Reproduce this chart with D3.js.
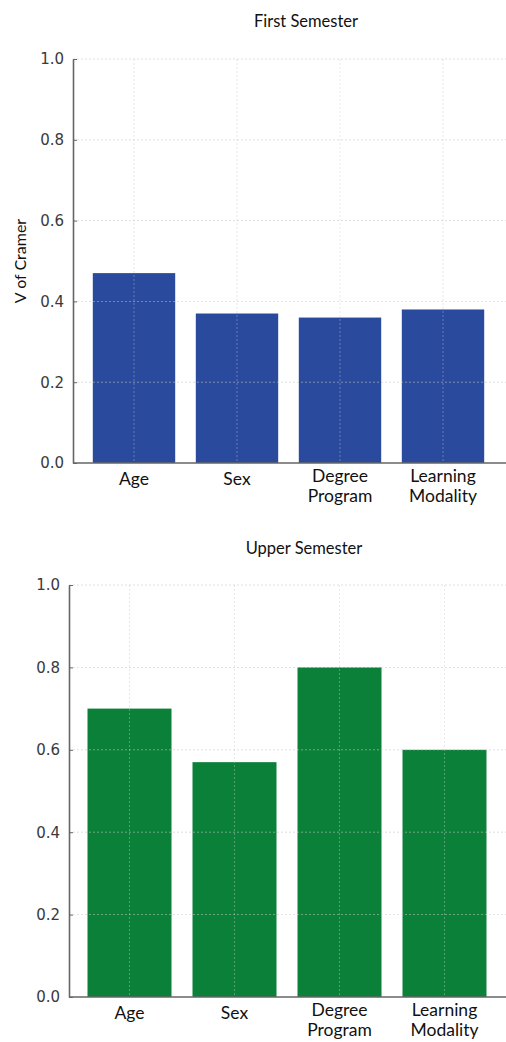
<!DOCTYPE html>
<html>
<head>
<meta charset="utf-8">
<script src="https://cdn.jsdelivr.net/npm/d3@7"></script>
<style>
html,body{margin:0;padding:0;background:#fff;}
svg{display:block;}
</style>
</head>
<body>
<svg id="chart" width="506" height="1042"></svg>
<script>
const categories = ["Age", "Sex", "Degree Program", "Learning Modality"];
const categoryLines = [["Age"], ["Sex"], ["Degree", "Program"], ["Learning", "Modality"]];
const firstSemester = [0.47, 0.37, 0.36, 0.38];
const upperSemester = [0.70, 0.57, 0.80, 0.60];
const yTicks = [0.0, 0.2, 0.4, 0.6, 0.8, 1.0];
const titles = ["First Semester", "Upper Semester"];
const yLabel = "V of Cramer";

const svg = d3.select("#chart");
const font = "Lato, 'Open Sans', sans-serif";

const panels = [
  {title: titles[0], values: firstSemester, color: "#2a4a9d", axisX: 73, x0: 82.5, x1: 494.5, yTop: 59, yBot: 463, titleY: 27, titleX: 306, showYLabel: true},
  {title: titles[1], values: upperSemester, color: "#0b8038", axisX: 69, x0: 77, x1: 497, yTop: 585, yBot: 997, titleY: 554, titleX: 304, showYLabel: false}
];

panels.forEach(p => {
  const g = svg.append("g");
  const x = d3.scaleBand().domain(categories).range([p.x0, p.x1]).paddingInner(0.2).paddingOuter(0.1);
  const y = d3.scaleLinear().domain([0, 1]).range([p.yBot, p.yTop]);

  // bars
  g.selectAll("rect.bar").data(categories).enter().append("rect")
    .attr("class", "bar")
    .attr("x", d => x(d))
    .attr("width", x.bandwidth())
    .attr("y", (d, i) => y(p.values[i]))
    .attr("height", (d, i) => y(0) - y(p.values[i]))
    .attr("fill", p.color);

  // horizontal grid
  g.selectAll("line.hgrid").data(yTicks.filter(t => t > 0)).enter().append("line")
    .attr("x1", p.axisX).attr("x2", 506)
    .attr("y1", d => y(d)).attr("y2", d => y(d))
    .attr("stroke", "#c8c8c8").attr("stroke-width", 0.8).attr("stroke-dasharray", "2,2").attr("opacity", 0.7);

  // vertical grid
  g.selectAll("line.vgrid").data(categories).enter().append("line")
    .attr("x1", d => x(d) + x.bandwidth() / 2).attr("x2", d => x(d) + x.bandwidth() / 2)
    .attr("y1", y(1)).attr("y2", y(0))
    .attr("stroke", "#c8c8c8").attr("stroke-width", 0.8).attr("stroke-dasharray", "2,2").attr("opacity", 0.5);

  // y axis
  const yAxis = d3.axisLeft(y).tickValues(yTicks).tickFormat(d3.format(".1f")).tickSizeInner(-4).tickSizeOuter(0).tickPadding(9);
  const ya = g.append("g").attr("transform", `translate(${p.axisX},0)`).call(yAxis);
  ya.select(".domain").attr("stroke", "#666").attr("stroke-width", 1.6);
  ya.selectAll(".tick line").attr("stroke", "#666").attr("stroke-width", 1);
  ya.selectAll(".tick text").attr("font-family", "'DejaVu Sans', sans-serif").attr("font-size", 15).attr("fill", "#3a3a3a");

  // x axis line
  g.append("line").attr("x1", p.axisX).attr("x2", 506).attr("y1", y(0)).attr("y2", y(0))
    .attr("stroke", "#666").attr("stroke-width", 1.6);

  // x labels
  categories.forEach((c, i) => {
    const lines = categoryLines[i];
    const t = g.append("text")
      .attr("x", x(c) + x.bandwidth() / 2)
      .attr("y", y(0) + (lines.length === 1 ? 22 : 19))
      .attr("text-anchor", "middle")
      .attr("font-family", font).attr("font-size", 17.5).attr("fill", "#111");
    lines.forEach((l, j) => {
      t.append("tspan").attr("x", x(c) + x.bandwidth() / 2).attr("dy", j === 0 ? 0 : 20).text(l);
    });
  });

  // title
  g.append("text").attr("x", p.titleX).attr("y", p.titleY).attr("text-anchor", "middle")
    .attr("font-family", font).attr("font-size", 16.5).attr("fill", "#111").text(p.title);

  if (p.showYLabel) {
    g.append("text").attr("transform", `translate(26,${(p.yTop + p.yBot) / 2}) rotate(-90)`)
      .attr("text-anchor", "middle")
      .attr("font-family", font).attr("font-size", 16).attr("fill", "#111").text(yLabel);
  }
});
</script>
</body>
</html>
